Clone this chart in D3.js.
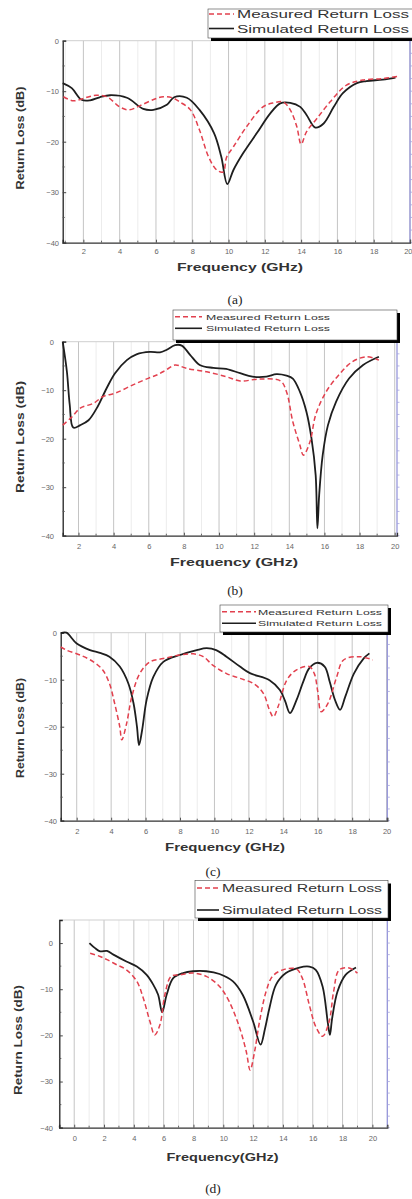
<!DOCTYPE html>
<html>
<head>
<meta charset="utf-8">
<script src="https://d3js.org/d3.v7.min.js"></script>
<style>
  body { margin: 0; background: #fff; }
  svg { display: block; }
</style>
</head>
<body>
<script>
// ---- data (frequency in GHz, return loss in dB) ----
var measAFreq = [0.9,1.45,2.2,2.7,3.3,4.0,4.5,5.1,5.9,6.4,6.9,7.3,7.9,8.4,8.9,9.35,9.7,9.9,10.27,11,11.9,12.5,13,13.4,13.76,14,14.3,14.87,15.6,16.5,17.4,18.5,19.3]
var measADb   = [-11.1,-11.9,-11.2,-10.8,-11.1,-13.1,-13.7,-12.9,-11.6,-11.1,-11.3,-12.1,-13.7,-17.7,-23,-25.6,-26,-23,-21,-17,-13.1,-12.3,-12.1,-13.7,-17,-20.5,-18,-15.4,-12.1,-8.8,-7.8,-7.5,-7.1]
var simAFreq  = [0.86,1.36,1.9,2.37,2.9,3.47,4.4,5.3,5.86,6.6,7.0,7.7,8.4,9.2,9.6,9.93,10.27,10.8,11.56,12.3,12.85,13.4,13.95,14.3,14.78,15.24,15.8,16.3,17.07,17.6,18.5,19.2]
var simADb    = [-8.4,-9.4,-11.7,-11.8,-11.2,-10.8,-11.3,-13.5,-13.7,-12.7,-11.2,-11.3,-13.7,-18.3,-23,-28.4,-25.6,-22.3,-18.3,-14.4,-12.4,-12.3,-13.1,-14.7,-17.2,-16.4,-13.1,-10.4,-8.4,-8,-7.7,-7.3]

var measBFreq = [1.1,1.6,2.1,2.85,3.4,4.1,5.1,6.0,6.5,7.0,7.5,8.15,9.3,10.4,11.2,12.3,13.5,13.84,14.2,14.6,14.8,15.18,15.5,16.1,16.9,17.6,18.4,19.1]
var measBDb   = [-17.2,-15.6,-13.7,-12.7,-11.3,-10.6,-8.9,-7.5,-6.8,-5.8,-4.8,-5.5,-6.2,-7.2,-8.1,-7.7,-8.1,-10.3,-16.5,-21.3,-23.4,-20.6,-15.1,-10.3,-6.5,-4.1,-3.1,-3.8]
var simBFreq  = [1.1,1.34,1.5,1.7,2.1,2.57,3.04,3.6,4.08,4.75,5.3,6.07,6.64,7.0,7.5,7.88,8.35,8.9,9.67,10.4,11.2,11.9,12.7,13.27,13.84,14.2,14.6,14.97,15.26,15.5,15.6,15.7,15.9,16.2,16.66,17.4,18.2,19.1]
var simBDb    = [0,-6.2,-13,-17.7,-17.2,-16.2,-13.7,-9.6,-6.5,-3.8,-2.6,-2.1,-2.2,-1.7,-0.7,-0.8,-2.7,-4.8,-5.4,-5.6,-6.5,-7.2,-7.2,-6.7,-7.0,-7.6,-10.3,-14.4,-19.9,-27.5,-38.5,-31.6,-23.4,-17.2,-12.4,-7.6,-4.8,-3.1]

var measCFreq = [1.07,1.4,2.2,2.97,3.5,3.9,4.2,4.5,4.62,4.9,5.2,5.66,6.26,7.03,8,8.77,9.35,9.9,10.7,11.48,12.26,12.84,13.2,13.42,13.7,14.2,14.77,15.5,15.8,16.0,16.2,16.6,17.1,17.5,18.45,19.2]
var measCDb   = [-3,-3.7,-4.75,-6.2,-7.9,-10.8,-15,-20,-22.8,-19.3,-13.6,-8.7,-6.2,-5.5,-4.75,-4.5,-5.1,-6.9,-8.7,-9.7,-10.8,-12.9,-16.5,-17.9,-15.7,-10.1,-7.9,-7.2,-8.7,-12.5,-16.8,-15,-9.4,-5.8,-5.1,-5.8]
var simCFreq  = [1.08,1.4,2,2.77,3.35,3.9,4.5,5,5.3,5.5,5.62,5.8,6.06,6.45,7.03,8,8.97,9.55,10.1,10.7,11.48,12.06,13.2,13.8,14.1,14.39,14.77,15.16,15.5,15.94,16.4,16.7,17.0,17.3,17.6,18.1,18.66,19.0]
var simCDb    = [-0.1,0,-2.3,-3.7,-4.3,-5.1,-7.2,-10.8,-15,-20,-23.9,-20.7,-14.3,-9.4,-6.2,-4.75,-3.7,-3.3,-3.7,-5.1,-7.2,-8.6,-10.1,-12.2,-14.5,-17.1,-14.3,-10.4,-7.6,-6.4,-7.2,-10.5,-14.3,-16.4,-13.6,-8.7,-5.5,-4.4]

var measDFreq = [1.07,1.74,2.2,2.85,3.5,4.2,4.63,5.08,5.4,5.75,6.08,6.5,7.08,7.97,8.86,9.75,10.4,11.1,11.54,11.8,12.1,12.43,12.87,13.3,14,14.9,15.3,15.77,16.2,16.66,17.1,17.4,17.77,18.44,19]
var measDDb   = [-2.2,-2.9,-3.6,-4.7,-5.8,-8.3,-11.9,-17,-19.9,-17.7,-11.2,-7.2,-6.9,-6.5,-7.2,-9.4,-12.7,-18.4,-23.5,-27.5,-23.5,-17,-10.5,-7.2,-5.8,-5.6,-7.6,-13.4,-18.1,-20.2,-17,-10.5,-5.8,-5.4,-6.5]
var simDFreq  = [1.02,1.4,1.74,2.2,2.63,3.5,4.2,4.86,5.3,5.63,5.9,6.2,6.64,7.3,7.97,8.86,9.75,10.65,11.3,12,12.5,12.8,13.1,13.54,14.2,15.1,15.77,16.2,16.66,17.0,17.15,17.3,17.66,18.2,18.9]
var simDDb    = [0,-1.1,-1.8,-1.7,-2.5,-4,-5.1,-6.9,-9,-11.2,-15,-11.2,-7.6,-6.5,-6.1,-6.1,-6.7,-8.3,-11.2,-17,-22,-18.5,-14,-9,-6.5,-5.3,-5.1,-5.8,-9.4,-17,-19.9,-16.3,-10.5,-6.9,-5.3]

var yTicks = [0,-10,-20,-30,-40]
var xTicksABC = [2,4,6,8,10,12,14,16,18,20]
var xTicksD = [0,2,4,6,8,10,12,14,16,18,20]
var legendLabels = ['Measured Return Loss', 'Simulated Return Loss']

var W = 412, H = 1199

var svg = d3.select('body').append('svg')
  .attr('width', W).attr('height', H)

svg.append('rect').attr('width', W).attr('height', H).attr('fill', '#fff')

var panels = [
  { meas: [measAFreq, measADb], sim: [simAFreq, simADb],
    l: 62.7, r: 410, t: 40.7, b: 242.7, xd: [0.86, 20], yd: [-40, 0], xt: xTicksABC,
    ylx: 59, xly: 251.7,
    leg: { x: 208, y: 9, w: 206, h: 29, r1: 14, r2: 28.5, lx0: 209, lx1: 234, tx: 237, tw: 172, fs: 11.5 },
    yl: { x: 20, y: 138, len: 103 }, xl: { x: 240, y: 267, len: 126, txt: 'Frequency (GHz)' },
    cap: { x: 235, y: 299, txt: '(a)' } },
  { meas: [measBFreq, measBDb], sim: [simBFreq, simBDb],
    l: 62.7, r: 397, t: 341.7, b: 535.7, xd: [1.1, 20.13], yd: [-40, 0], xt: xTicksABC,
    ylx: 54, xly: 546.7,
    leg: { x: 173, y: 310, w: 224, h: 30, r1: 316.7, r2: 328.3, lx0: 175, lx1: 202, tx: 206, tw: 124, fs: 8 },
    yl: { x: 20, y: 437, len: 112 }, xl: { x: 234, y: 561.7, len: 128, txt: 'Frequency (GHz)' },
    cap: { x: 235, y: 590, txt: '(b)' } },
  { meas: [measCFreq, measCDb], sim: [simCFreq, simCDb],
    l: 60.7, r: 387.3, t: 632.7, b: 820.7, xd: [1.07, 20.04], yd: [-40, 0], xt: xTicksABC,
    ylx: 57, xly: 831.7,
    leg: { x: 220, y: 605, w: 168, h: 27, r1: 611.7, r2: 623.3, lx0: 222, lx1: 256, tx: 258, tw: 124, fs: 8 },
    yl: { x: 20, y: 728, len: 100 }, xl: { x: 225, y: 846.7, len: 120, txt: 'Frequency (GHz)' },
    cap: { x: 213, y: 871.5, txt: '(c)' } },
  { meas: [measDFreq, measDDb], sim: [simDFreq, simDDb],
    l: 59.3, r: 387.3, t: 920, b: 1127.7, xd: [-1, 21], yd: [-40, 5], xt: xTicksD,
    ylx: 53, xly: 1138.3,
    leg: { x: 195, y: 880.5, w: 193, h: 37.5, r1: 888, r2: 910, lx0: 197, lx1: 219, tx: 222, tw: 160, fs: 11.5 },
    yl: { x: 18, y: 1040, len: 110 }, xl: { x: 222.5, y: 1156.7, len: 112, txt: 'Frequency(GHz)' },
    cap: { x: 213, y: 1188, txt: '(d)' } }
]

function drawPanel(p) {
  var x = d3.scaleLinear().domain(p.xd).range([p.l, p.r])
  var y = d3.scaleLinear().domain(p.yd).range([p.b, p.t])
  var g = svg.append('g')

  // vertical grid, every GHz, even ones darker
  var gridVals = d3.range(Math.ceil(p.xd[0]), Math.floor(p.xd[1]) + 1)
  g.selectAll('.grid').data(gridVals).enter().append('line')
    .attr('x1', function(d){ return x(d) }).attr('x2', function(d){ return x(d) })
    .attr('y1', p.t).attr('y2', p.b)
    .attr('stroke', function(d){ return d % 2 === 0 ? '#c4c4c4' : '#ececec' })
    .attr('stroke-width', 1)

  // top frame line
  g.append('line').attr('x1', p.l).attr('x2', p.r).attr('y1', p.t).attr('y2', p.t)
    .attr('stroke', '#cfcfcf').attr('stroke-width', 1)
  // right axis, bluish
  g.append('line').attr('x1', p.r).attr('x2', p.r).attr('y1', p.t).attr('y2', p.b)
    .attr('stroke', '#8f8fd8').attr('stroke-width', 1.2)
  g.selectAll('.rt').data(d3.range(p.yd[0], p.yd[1] + 0.1, 2.5)).enter().append('line')
    .attr('x1', p.r).attr('x2', p.r + 2.5)
    .attr('y1', function(d){ return y(d) }).attr('y2', function(d){ return y(d) })
    .attr('stroke', '#a4a4e0').attr('stroke-width', 0.8)

  // bottom axis
  var xAxis = d3.axisBottom(x).tickValues(p.xt).tickSize(-3).tickPadding(7)
    .tickFormat(d3.format('d'))
  var gx = g.append('g').attr('transform', 'translate(0,' + p.b + ')').call(xAxis)
  gx.select('.domain').attr('stroke', '#333').attr('stroke-width', 1.3)
  gx.selectAll('.tick line').attr('stroke', '#555')
  gx.selectAll('.tick text').attr('font-family', 'Arial, Liberation Sans, sans-serif')
    .attr('font-size', 7.5).attr('fill', '#666').attr('dy', null)
    .attr('y', p.xly - p.b + 2.5)
    .attr('text-anchor', function(d){ return x(d) > W - 6 ? 'end' : 'middle' })
    .attr('dx', function(d){ return x(d) > W - 6 ? (W - x(d)) : 0 })
  var minorX = d3.range(Math.ceil(p.xd[0]), Math.floor(p.xd[1]) + 1).filter(function(d){ return d % 2 !== 0 })
  g.selectAll('.mx').data(minorX).enter().append('line')
    .attr('x1', function(d){ return x(d) }).attr('x2', function(d){ return x(d) })
    .attr('y1', p.b).attr('y2', p.b - 2).attr('stroke', '#666')

  // left axis
  var yAxis = d3.axisLeft(y).tickValues(yTicks).tickSize(-3.5).tickPadding(4)
    .tickFormat(d3.format('d'))
  var gy = g.append('g').attr('transform', 'translate(' + p.l + ',0)').call(yAxis)
  gy.select('.domain').attr('stroke', '#222').attr('stroke-width', 1.3)
  gy.selectAll('.tick line').attr('stroke', '#444')
  gy.selectAll('.tick text').attr('font-family', 'Arial, Liberation Sans, sans-serif')
    .attr('font-size', 7.5).attr('fill', '#666').attr('x', p.ylx - p.l)
  var minorY = d3.range(p.yd[0] + 5, p.yd[1], 10)
  g.selectAll('.my').data(minorY).enter().append('line')
    .attr('x1', p.l).attr('x2', p.l + 2)
    .attr('y1', function(d){ return y(d) }).attr('y2', function(d){ return y(d) })
    .attr('stroke', '#555')

  var line = d3.line()
    .x(function(d){ return x(d[0]) })
    .y(function(d){ return y(d[1]) })
    .curve(d3.curveCatmullRom.alpha(0.5))

  g.append('path').attr('d', line(d3.zip(p.sim[0], p.sim[1])))
    .attr('fill', 'none').attr('stroke', '#1e1e1e').attr('stroke-width', 1.8)
  g.append('path').attr('d', line(d3.zip(p.meas[0], p.meas[1])))
    .attr('fill', 'none').attr('stroke', '#e2404e').attr('stroke-width', 1.5)
    .attr('stroke-dasharray', '5,3')

  // legend with drop shadow
  var L = p.leg
  g.append('rect').attr('x', L.x + 3).attr('y', L.y + 3).attr('width', L.w).attr('height', L.h).attr('fill', '#000')
  g.append('rect').attr('x', L.x).attr('y', L.y).attr('width', L.w).attr('height', L.h)
    .attr('fill', '#fff').attr('stroke', '#444').attr('stroke-width', 0.6)
  var rows = [L.r1, L.r2]
  g.selectAll('.lgl').data(legendLabels).enter().append('line')
    .attr('x1', L.lx0).attr('x2', L.lx1)
    .attr('y1', function(d, i){ return rows[i] }).attr('y2', function(d, i){ return rows[i] })
    .attr('stroke', function(d, i){ return i === 0 ? '#e2404e' : '#1e1e1e' })
    .attr('stroke-width', function(d, i){ return i === 0 ? 1.4 : 1.6 })
    .attr('stroke-dasharray', function(d, i){ return i === 0 ? '5,3' : null })
  g.selectAll('.lgt').data(legendLabels).enter().append('text')
    .text(function(d){ return d })
    .attr('x', L.tx).attr('y', function(d, i){ return rows[i] + L.fs * 0.36 })
    .attr('textLength', L.tw).attr('lengthAdjust', 'spacingAndGlyphs')
    .attr('font-family', 'Arial, Liberation Sans, sans-serif')
    .attr('font-size', L.fs).attr('fill', '#333')

  // axis titles
  g.append('text').text('Return Loss (dB)')
    .attr('transform', 'translate(' + (p.yl.x + 4) + ',' + p.yl.y + ') rotate(-90)')
    .attr('text-anchor', 'middle').attr('textLength', p.yl.len).attr('lengthAdjust', 'spacingAndGlyphs')
    .attr('font-family', 'Arial, Liberation Sans, sans-serif').attr('font-weight', 'bold')
    .attr('font-size', 10.5).attr('fill', '#333')
  g.append('text').text(p.xl.txt)
    .attr('x', p.xl.x - p.xl.len / 2).attr('y', p.xl.y + 4)
    .attr('textLength', p.xl.len).attr('lengthAdjust', 'spacingAndGlyphs')
    .attr('font-family', 'Arial, Liberation Sans, sans-serif').attr('font-weight', 'bold')
    .attr('font-size', 11).attr('fill', '#333')

  // caption
  g.append('text').text(p.cap.txt)
    .attr('x', p.cap.x).attr('y', p.cap.y + 4.5).attr('text-anchor', 'middle')
    .attr('font-family', 'Liberation Serif, Times New Roman, serif')
    .attr('font-size', 13.5).attr('fill', '#222')
}

panels.forEach(drawPanel)
</script>
</body>
</html>
